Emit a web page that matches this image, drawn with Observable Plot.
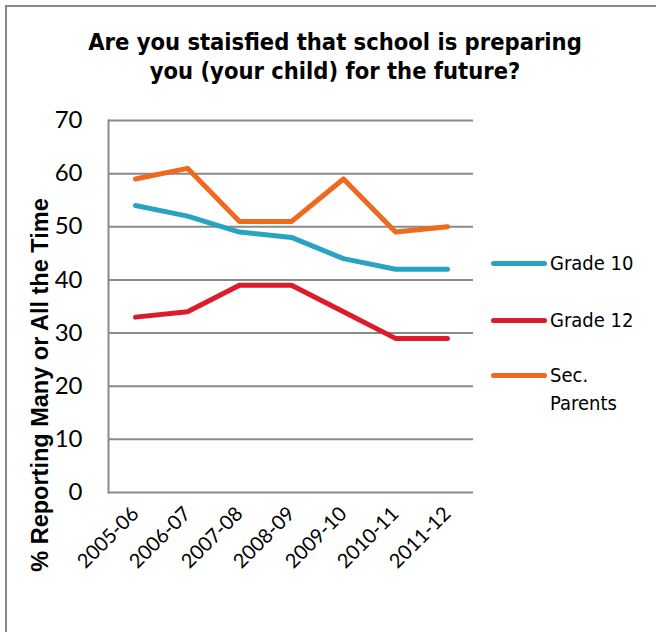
<!DOCTYPE html>
<html>
<head>
<meta charset="utf-8">
<script src="https://cdn.jsdelivr.net/npm/d3@7"></script>
<script src="https://cdn.jsdelivr.net/npm/@observablehq/plot@0.6"></script>
<style>
  html, body { margin: 0; padding: 0; background: #fff; }
  #wrap { position: relative; width: 656px; height: 632px; overflow: hidden; }
  #frame { position: absolute; left: 5px; top: 5px; width: 700px; height: 700px;
           border-left: 2px solid #888; border-top: 2px solid #888; box-sizing: border-box; }
  #title { position: absolute; left: 0; top: 28px; width: 670px; text-align: center;
           font-family: "DejaVu Sans", sans-serif; font-stretch: condensed; font-weight: bold;
           font-size: 23.5px; line-height: 29px; color: #000; }
  #ylabel { position: absolute; left: 40px; top: 385px; width: 440px; margin-left: -220px;
            text-align: center; transform: translateY(-50%) rotate(-90deg);
            font-family: "Liberation Sans", Arial, sans-serif; font-weight: bold; font-size: 23.5px; color: #000; white-space: nowrap; }
  .leg { position: absolute; left: 491px; font-family: "DejaVu Sans", sans-serif; font-stretch: condensed;
         font-size: 20px; line-height: 28px; color: #000; }
  .leg .sw { position: absolute; left: 0; top: 0; width: 56px; height: 5px; border-radius: 3px; }
  .leg .lab { position: absolute; left: 59px; white-space: nowrap; }
  #chart { position: absolute; left: 0; top: 0; }
</style>
</head>
<body>
<div id="wrap">
  <div id="frame"></div>
  <div id="chart"></div>
  <div id="title">Are you staisfied that school is preparing<br>you (your child) for the future?</div>
  <div id="ylabel">% Reporting Many or All the Time</div>
  <div id="legend"></div>
</div>
<script>
const years = ["2005-06", "2006-07", "2007-08", "2008-09", "2009-10", "2010-11", "2011-12"];
const seriesNames = ["Grade 10", "Grade 12", "Sec. Parents"];
const grade10 = [54, 52, 49, 48, 44, 42, 42];
const grade12 = [33, 34, 39, 39, 34, 29, 29];
const secParents = [59, 61, 51, 51, 59, 49, 50];
const yTicks = [0, 10, 20, 30, 40, 50, 60, 70];
const colors = ["#2aa3c2", "#dc1c2b", "#ee6a1e"];

const allValues = [grade10, grade12, secParents];
const data = [];
seriesNames.forEach((s, i) => years.forEach((y, j) => data.push({series: s, year: y, value: allValues[i][j]})));

const chart = Plot.plot({
  width: 656,
  height: 632,
  marginLeft: 108,
  marginRight: 183,
  marginTop: 120,
  marginBottom: 140,
  style: {background: "transparent", overflow: "visible"},
  x: {type: "point", domain: years, padding: 0.5},
  y: {domain: [0, 70]},
  color: {domain: seriesNames, range: colors},
  marks: [
    Plot.ruleY(yTicks, {stroke: "#8a8a8a", strokeWidth: 2, strokeOpacity: 1}),
    Plot.frame({anchor: "left", stroke: "#8a8a8a", strokeWidth: 2}),
    Plot.axisY(yTicks, {tickSize: 0, tickPadding: 26, label: null, fontSize: 24, fontFamily: "Lato", fill: "#000"}),
    Plot.axisX({tickSize: 0, tickRotate: -45, tickPadding: 18, label: null, fontSize: 20, fontFamily: "Lato", fill: "#000"}),
    Plot.line(data, {x: "year", y: "value", z: "series", stroke: "series", strokeWidth: 5, strokeLinecap: "round", strokeLinejoin: "round"})
  ]
});
document.getElementById("chart").appendChild(chart);

const legendTop = [249, 306, 361];
const legendLabels = ["Grade 10", "Grade 12", "Sec.<br>Parents"];
const legend = document.getElementById("legend");
seriesNames.forEach((s, i) => {
  const d = document.createElement("div");
  d.className = "leg";
  d.style.top = legendTop[i] + "px";
  d.innerHTML = `<div class="sw" style="background:${colors[i]};top:12px"></div><div class="lab">${legendLabels[i]}</div>`;
  legend.appendChild(d);
});
</script>
</body>
</html>
